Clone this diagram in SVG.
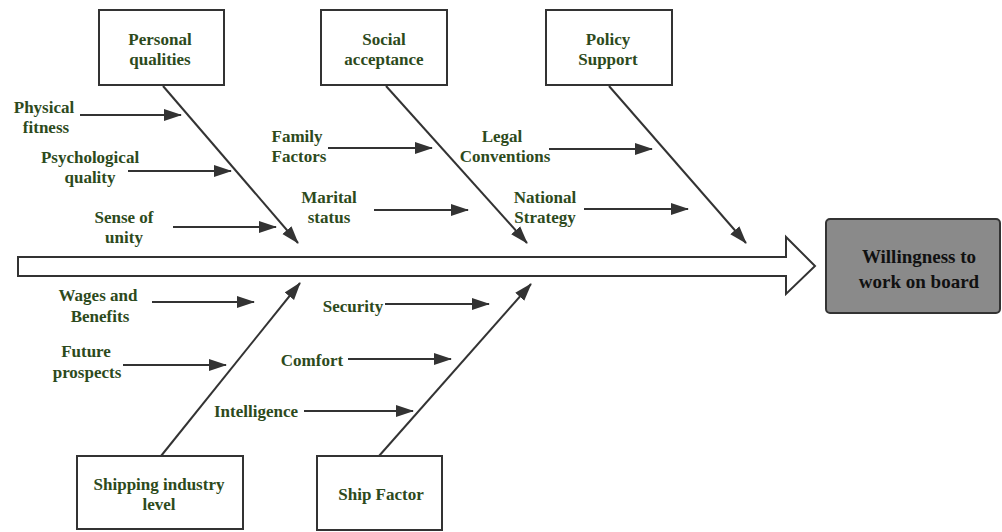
<svg xmlns="http://www.w3.org/2000/svg" width="1002" height="532" viewBox="0 0 1002 532" font-family="Liberation Serif, serif">
<style>
.box{fill:#fff;stroke:#333;stroke-width:2}
.ln{stroke:#333;stroke-width:2;fill:none;marker-end:url(#ah)}
.t{font-weight:bold;font-size:17px;fill:#2d4a1c;text-anchor:middle}
.tm{font-weight:bold;font-size:19px;fill:#111;text-anchor:middle}
</style>
<defs>
<marker id="ah" markerUnits="userSpaceOnUse" markerWidth="19" markerHeight="13" refX="17" refY="6.5" orient="auto" viewBox="0 0 19 13">
<path d="M0,0.5 L18,6.5 L0,12.5 z" fill="#333"/>
</marker>
</defs>
<rect width="1002" height="532" fill="#fff"/>
<g id="connectors">
<polygon points="18,257 786,257 786,237 815,266 786,294 786,276 18,276" fill="#fff" stroke="#333" stroke-width="2"/>
<line class="ln" x1="163" y1="86" x2="298" y2="243"/>
<line class="ln" x1="386" y1="86" x2="527" y2="243"/>
<line class="ln" x1="609" y1="86" x2="746" y2="243"/>
<line class="ln" x1="161" y1="456" x2="300" y2="283"/>
<line class="ln" x1="379" y1="456" x2="531" y2="284"/>
<line class="ln" x1="80" y1="115" x2="181" y2="115"/>
<line class="ln" x1="128" y1="171" x2="231" y2="171"/>
<line class="ln" x1="173" y1="227" x2="276" y2="227"/>
<line class="ln" x1="328" y1="148" x2="432" y2="148"/>
<line class="ln" x1="374" y1="210" x2="468" y2="210"/>
<line class="ln" x1="549" y1="149" x2="652" y2="149"/>
<line class="ln" x1="584" y1="209" x2="688" y2="209"/>
<line class="ln" x1="152" y1="302" x2="254" y2="302"/>
<line class="ln" x1="123" y1="365" x2="226" y2="365"/>
<line class="ln" x1="385" y1="304" x2="489" y2="304"/>
<line class="ln" x1="348" y1="359" x2="451" y2="359"/>
<line class="ln" x1="304" y1="411" x2="413" y2="411"/>
</g>
<g id="personal-qualities">
<rect class="box" x="99" y="10" width="125" height="75"/>
<text class="t" x="160" y="45">Personal</text>
<text class="t" x="160" y="65">qualities</text>
</g>
<g id="social-acceptance">
<rect class="box" x="321" y="10" width="126" height="75"/>
<text class="t" x="384" y="45">Social</text>
<text class="t" x="384" y="65">acceptance</text>
</g>
<g id="policy-support">
<rect class="box" x="546" y="10" width="126" height="75"/>
<text class="t" x="608" y="45">Policy</text>
<text class="t" x="608" y="65">Support</text>
</g>
<g id="shipping-industry-level">
<rect class="box" x="77" y="456" width="166" height="73"/>
<text class="t" x="159" y="490">Shipping industry</text>
<text class="t" x="159" y="510">level</text>
</g>
<g id="ship-factor">
<rect class="box" x="317" y="456" width="125" height="74"/>
<text class="t" x="381" y="500">Ship Factor</text>
</g>
<g id="willingness">
<rect x="826" y="219" width="174" height="94" rx="4" fill="#8a8a8a" stroke="#333" stroke-width="2"/>
<text class="tm" x="919" y="263">Willingness to</text>
<text class="tm" x="919" y="288">work on board</text>
</g>
<g id="physical-fitness">
<text class="t" x="44" y="113">Physical</text>
<text class="t" x="46" y="133">fitness</text>
</g>
<g id="psychological-quality">
<text class="t" x="90" y="163">Psychological</text>
<text class="t" x="90" y="183">quality</text>
</g>
<g id="sense-of-unity">
<text class="t" x="124" y="223">Sense of</text>
<text class="t" x="124" y="243">unity</text>
</g>
<g id="family-factors">
<text class="t" x="297" y="142">Family</text>
<text class="t" x="299" y="162">Factors</text>
</g>
<g id="marital-status">
<text class="t" x="329" y="203">Marital</text>
<text class="t" x="329" y="223">status</text>
</g>
<g id="legal-conventions">
<text class="t" x="502" y="142">Legal</text>
<text class="t" x="505" y="162">Conventions</text>
</g>
<g id="national-strategy">
<text class="t" x="545" y="203">National</text>
<text class="t" x="545" y="223">Strategy</text>
</g>
<g id="wages-and-benefits">
<text class="t" x="98" y="301">Wages and</text>
<text class="t" x="100" y="322">Benefits</text>
</g>
<g id="future-prospects">
<text class="t" x="86" y="357">Future</text>
<text class="t" x="87" y="378">prospects</text>
</g>
<g id="security">
<text class="t" x="353" y="312">Security</text>
</g>
<g id="comfort">
<text class="t" x="312" y="366">Comfort</text>
</g>
<g id="intelligence">
<text class="t" x="256" y="417">Intelligence</text>
</g>
</svg>
